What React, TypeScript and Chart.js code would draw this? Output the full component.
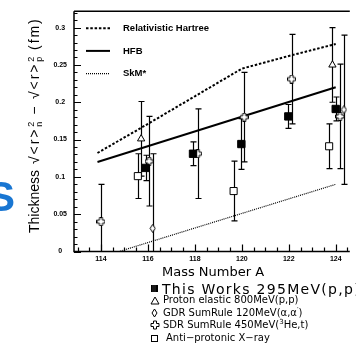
import React, { useEffect, useRef } from 'react';
import { Chart, registerables } from 'chart.js';

Chart.register(...registerables);

// ---------- data ----------
const thisWorkA = [115.9, 117.92, 119.98, 121.98, 124.0];
const thisWorkV = [0.112, 0.131, 0.144, 0.181, 0.191];
const thisWorkErr = [0.017, 0.016, 0.034, 0.016, 0.016];

const protonA = [115.71, 123.86];
const protonV = [0.151, 0.25];
const protonErr = [0.05, 0.05];

const gdrA = [116.2, 124.35];
const gdrV = [0.031, 0.19];
const gdrErr = [0.1, 0.1];

const sdrA = [114.0, 116.05, 118.12, 120.1, 122.12, 124.18];
const sdrV = [0.04, 0.121, 0.131, 0.18, 0.231, 0.181];
const sdrErr = [0.05, 0.06, 0.06, 0.06, 0.06, 0.07];

const pbarA = [115.57, 119.65, 123.72];
const pbarV = [0.101, 0.081, 0.141];
const pbarErr = [0.03, 0.04, 0.03];

const rhA = [113.85, 116, 118, 120, 122, 124];
const rhV = [0.132, 0.171, 0.208, 0.245, 0.262, 0.278];

const hfbA = [113.85, 124];
const hfbV = [0.12, 0.22];

const skmA = [113.85, 124];
const skmV = [-0.009, 0.09];

const theoryLabels = ['Relativistic Hartree', 'HFB', 'SkM*'];

const X_MIN = 112.85;
const X_MAX = 124.6;
const Y_MIN = 0;
const Y_MAX = 0.322;

const pts = (xs: number[], ys: number[]) => xs.map((x, i) => ({ x, y: ys[i] }));

function crossImage(): HTMLCanvasElement {
  const c = document.createElement('canvas');
  c.width = 9;
  c.height = 9;
  const g = c.getContext('2d')!;
  const p = [[3, 0.5], [6, 0.5], [6, 3], [8.5, 3], [8.5, 6], [6, 6], [6, 8.5], [3, 8.5], [3, 6], [0.5, 6], [0.5, 3], [3, 3]];
  g.beginPath();
  p.forEach(([x, y], i) => (i ? g.lineTo(x, y) : g.moveTo(x, y)));
  g.closePath();
  g.fillStyle = '#fff';
  g.fill();
  g.strokeStyle = '#000';
  g.lineWidth = 1;
  g.stroke();
  return c;
}

function diamondImage(): HTMLCanvasElement {
  const c = document.createElement('canvas');
  c.width = 7;
  c.height = 9;
  const g = c.getContext('2d')!;
  g.beginPath();
  g.moveTo(3.5, 0.5);
  g.lineTo(6, 4.5);
  g.lineTo(3.5, 8.5);
  g.lineTo(1, 4.5);
  g.closePath();
  g.fillStyle = '#fff';
  g.fill();
  g.strokeStyle = '#000';
  g.lineWidth = 1;
  g.stroke();
  return c;
}

const errorBarPlugin = {
  id: 'errorBars',
  beforeDatasetsDraw(chart: any) {
    const { ctx, chartArea } = chart;
    const { left, right, top, bottom } = chartArea;
    const xs = chart.scales.x;
    const ys = chart.scales.y;
    ctx.save();
    ctx.beginPath();
    ctx.rect(left, top, right - left, bottom - top);
    ctx.clip();
    ctx.strokeStyle = '#000';
    ctx.lineWidth = 1.2;
    chart.data.datasets.forEach((ds: any) => {
      if (!ds.errors) return;
      ds.data.forEach((p: any, i: number) => {
        const e = ds.errors[i];
        const x = Math.round(xs.getPixelForValue(p.x)) + 0.5;
        const y1 = ys.getPixelForValue(p.y + e);
        const y2 = ys.getPixelForValue(p.y - e);
        ctx.beginPath();
        ctx.moveTo(x, y1);
        ctx.lineTo(x, y2);
        ctx.moveTo(x - 3, y1);
        ctx.lineTo(x + 3, y1);
        ctx.moveTo(x - 3, y2);
        ctx.lineTo(x + 3, y2);
        ctx.stroke();
      });
    });
    ctx.restore();
  },
};

const framePlugin = {
  id: 'frameTicks',
  afterDatasetsDraw(chart: any) {
    const { ctx, chartArea } = chart;
    const { left, right, top, bottom } = chartArea;
    const xs = chart.scales.x;
    const ys = chart.scales.y;
    ctx.save();
    ctx.strokeStyle = '#000';
    ctx.lineWidth = 1.5;
    ctx.beginPath();
    ctx.moveTo(left, top);
    ctx.lineTo(right, top);
    ctx.moveTo(left, top);
    ctx.lineTo(left, bottom);
    ctx.lineTo(right, bottom);
    ctx.stroke();
    ctx.lineWidth = 1.2;
    ctx.beginPath();
    for (let k = 0; k <= 32; k++) {
      const v = k / 100;
      if (v > Y_MAX) break;
      const y = Math.round(ys.getPixelForValue(v)) + 0.5;
      const len = k % 5 === 0 ? 7 : 3.5;
      ctx.moveTo(left, y);
      ctx.lineTo(left + len, y);
    }
    for (let k = 226; k <= 250; k++) {
      const v = k / 2;
      if (v < X_MIN || v > X_MAX) continue;
      const x = Math.round(xs.getPixelForValue(v)) + 0.5;
      const len = k % 4 === 0 ? 7 : 4;
      ctx.moveTo(x, bottom);
      ctx.lineTo(x, bottom - len);
    }
    ctx.stroke();
    ctx.restore();
  },
};

const innerLegendPlugin = {
  id: 'innerLegend',
  afterDraw(chart: any) {
    const { ctx, chartArea } = chart;
    const items = chart.data.datasets.filter((d: any) => d.inLegend);
    ctx.save();
    items.forEach((d: any, i: number) => {
      const y = chartArea.top + 17 + i * 22.7;
      ctx.beginPath();
      ctx.strokeStyle = '#000';
      ctx.lineWidth = d.borderWidth;
      ctx.setLineDash(d.borderDash || []);
      ctx.moveTo(chartArea.left + 12, y);
      ctx.lineTo(chartArea.left + 36, y);
      ctx.stroke();
      ctx.setLineDash([]);
      ctx.fillStyle = '#000';
      ctx.font = 'bold 9.5px "Liberation Sans", Arial, sans-serif';
      ctx.textAlign = 'left';
      ctx.textBaseline = 'middle';
      ctx.fillText(d.label, chartArea.left + 49, y);
    });
    ctx.restore();
  },
};

function ChartCanvas() {
  const ref = useRef<HTMLCanvasElement>(null);
  useEffect(() => {
    if (!ref.current) return;
    const cross = crossImage();
    const diamond = diamondImage();
    const tickFont = { family: '"Liberation Sans", Arial, sans-serif', size: 7, weight: 'bold' as const };
    const chart = new Chart(ref.current, {
      type: 'scatter',
      data: {
        datasets: [
          {
            label: 'This Works 295MeV(p,p)',
            data: pts(thisWorkA, thisWorkV),
            errors: thisWorkErr,
            pointStyle: 'rect',
            pointRadius: 5.2,
            backgroundColor: '#000',
            borderColor: '#000',
            borderWidth: 1,
            order: 0,
          } as any,
          {
            label: 'Proton elastic 800MeV(p,p)',
            data: pts(protonA, protonV),
            errors: protonErr,
            pointStyle: 'triangle',
            pointRadius: 4.2,
            backgroundColor: '#fff',
            borderColor: '#000',
            borderWidth: 1,
            order: 0,
          } as any,
          {
            label: 'GDR SumRule 120MeV',
            data: pts(gdrA, gdrV),
            errors: gdrErr,
            pointStyle: diamond,
            pointRadius: 4,
            order: 0,
          } as any,
          {
            label: 'SDR SumRule 450MeV',
            data: pts(sdrA, sdrV),
            errors: sdrErr,
            pointStyle: cross,
            pointRadius: 4,
            order: 0,
          } as any,
          {
            label: 'Anti-protonic X-ray',
            data: pts(pbarA, pbarV),
            errors: pbarErr,
            pointStyle: 'rect',
            pointRadius: 5,
            backgroundColor: '#fff',
            borderColor: '#000',
            borderWidth: 1,
            order: 0,
          } as any,
          {
            label: theoryLabels[0],
            data: pts(rhA, rhV),
            showLine: true,
            pointRadius: 0,
            borderColor: '#000',
            borderWidth: 2,
            borderDash: [2.5, 1.8],
            inLegend: true,
            clip: 0,
            order: 1,
          } as any,
          {
            label: theoryLabels[1],
            data: pts(hfbA, hfbV),
            showLine: true,
            pointRadius: 0,
            borderColor: '#000',
            borderWidth: 2,
            inLegend: true,
            clip: 0,
            order: 1,
          } as any,
          {
            label: theoryLabels[2],
            data: pts(skmA, skmV),
            showLine: true,
            pointRadius: 0,
            borderColor: '#000',
            borderWidth: 1.2,
            borderDash: [1, 1],
            inLegend: true,
            clip: 0,
            order: 1,
          } as any,
        ],
      },
      options: {
        animation: false,
        responsive: false,
        layout: { padding: { top: 7, right: 0, left: 0, bottom: 0 } },
        plugins: { legend: { display: false }, tooltip: { enabled: false } },
        scales: {
          x: {
            type: 'linear',
            min: X_MIN,
            max: X_MAX,
            grid: { display: false, drawTicks: false },
            border: { display: false },
            ticks: {
              stepSize: 2,
              includeBounds: false,
              color: '#000',
              font: tickFont,
              padding: 3,
              maxRotation: 0,
              callback: (v: any) => String(v),
            },
            afterFit: (s: any) => {
              s.height = 13.5;
            },
          },
          y: {
            type: 'linear',
            min: Y_MIN,
            max: Y_MAX,
            grid: { display: false, drawTicks: false },
            border: { display: false },
            ticks: {
              stepSize: 0.05,
              includeBounds: false,
              color: '#000',
              font: tickFont,
              padding: 7,
              crossAlign: 'center',
              callback: (v: any) => (Math.abs(v) < 1e-9 ? '0' : String(+Number(v).toFixed(2))),
            },
            afterFit: (s: any) => {
              s.width = 74;
            },
          },
        },
      } as any,
      plugins: [errorBarPlugin, framePlugin, innerLegendPlugin],
    });
    return () => chart.destroy();
  }, []);
  return <canvas ref={ref} width={356} height={265} style={{ position: 'absolute', left: 0, top: 0, width: 356, height: 265 }} />;
}

function Stack({ a, b }: { a: string; b: string }) {
  return (
    <span
      style={{
        display: 'inline-flex',
        flexDirection: 'column',
        fontSize: 9,
        lineHeight: '8px',
        verticalAlign: 'middle',
        letterSpacing: 0,
        margin: '0 1px',
      }}
    >
      <span>{a}</span>
      <span>{b}</span>
    </span>
  );
}

const iconStyle: React.CSSProperties = { position: 'absolute', left: 0, top: 0 };

function Icon({ kind }: { kind: string }) {
  if (kind === 'filled')
    return (
      <svg width="9" height="9" style={iconStyle}>
        <rect x="1" y="1" width="7" height="7" fill="#000" />
        <line x1="3" y1="1" x2="3" y2="8" stroke="#555" strokeWidth="0.6" />
        <line x1="5" y1="1" x2="5" y2="8" stroke="#555" strokeWidth="0.6" />
      </svg>
    );
  if (kind === 'tri')
    return (
      <svg width="10" height="9" style={iconStyle}>
        <polygon points="5,1 9,8 1,8" fill="none" stroke="#000" strokeWidth="1" />
      </svg>
    );
  if (kind === 'dia')
    return (
      <svg width="9" height="10" style={iconStyle}>
        <polygon points="4.5,1 7,5 4.5,9 2,5" fill="none" stroke="#000" strokeWidth="1" />
      </svg>
    );
  if (kind === 'cross')
    return (
      <svg width="10" height="10" style={iconStyle}>
        <polygon
          points="3.5,1 6.5,1 6.5,3.5 9,3.5 9,6.5 6.5,6.5 6.5,9 3.5,9 3.5,6.5 1,6.5 1,3.5 3.5,3.5"
          fill="none"
          stroke="#000"
          strokeWidth="1"
        />
      </svg>
    );
  return (
    <svg width="9" height="9" style={iconStyle}>
      <rect x="1.5" y="1.5" width="6" height="6" fill="none" stroke="#000" strokeWidth="1" />
    </svg>
  );
}

function LegendRow({ top, icon, iconTop, textLeft, size, spacing, children }: any) {
  return (
    <div style={{ position: 'absolute', left: 150, top, height: size + 4, whiteSpace: 'nowrap' }}>
      <div style={{ position: 'absolute', left: 0, top: iconTop }}>
        <Icon kind={icon} />
      </div>
      <div
        style={{
          position: 'absolute',
          left: textLeft,
          top: 0,
          fontFamily: '"DejaVu Sans", sans-serif',
          fontSize: size,
          lineHeight: `${size + 2}px`,
          letterSpacing: spacing,
          color: '#000',
        }}
      >
        {children}
      </div>
    </div>
  );
}

export default function App() {
  return (
    <div
      style={{
        position: 'fixed',
        left: 0,
        top: 0,
        width: 356,
        height: 347,
        overflow: 'hidden',
        background: '#fff',
      }}
    >
      <ChartCanvas />
      <div
        style={{
          position: 'absolute',
          left: -13,
          top: 176,
          fontFamily: '"Liberation Sans", Arial, sans-serif',
          fontWeight: 'bold',
          fontSize: 42,
          lineHeight: '42px',
          color: '#1976D2',
        }}
      >
        S
      </div>
      <div
        style={{
          position: 'absolute',
          left: -96,
          top: 93,
          width: 260,
          height: 20,
          lineHeight: '20px',
          transform: 'rotate(-90deg)',
          fontFamily: '"Liberation Sans", Arial, sans-serif',
          fontSize: 14,
          whiteSpace: 'nowrap',
          color: '#000',
        }}
      >
        Thickness
        <span style={{ marginLeft: 6, letterSpacing: '1.9px' }}>
          √&lt;r&gt;
          <Stack a="2" b="n" /> − √&lt;r&gt;
          <Stack a="2" b="p" /> (fm)
        </span>
      </div>
      <div
        style={{
          position: 'absolute',
          left: 162,
          top: 264,
          fontFamily: '"DejaVu Sans", sans-serif',
          fontSize: 13,
          lineHeight: '16px',
          color: '#000',
          whiteSpace: 'nowrap',
        }}
      >
        Mass Number A
      </div>
      <LegendRow top={281} icon="filled" iconTop={3} textLeft={12} size={14} spacing="1.3px">
        This Works 295MeV(p,p)
      </LegendRow>
      <LegendRow top={294} icon="tri" iconTop={2} textLeft={13} size={10} spacing="0px">
        Proton elastic 800MeV(p,p)
      </LegendRow>
      <LegendRow top={306.5} icon="dia" iconTop={1} textLeft={13} size={10} spacing="0px">
        GDR SumRule 120MeV(α,α<sup style={{ fontSize: 7, lineHeight: 0 }}>′</sup>)
      </LegendRow>
      <LegendRow top={319} icon="cross" iconTop={1} textLeft={13} size={10} spacing="0px">
        SDR SumRule 450MeV(<sup style={{ fontSize: 7, lineHeight: 0 }}>3</sup>He,t)
      </LegendRow>
      <LegendRow top={331.5} icon="sq" iconTop={2} textLeft={16} size={10} spacing="0px">
        Anti−protonic X−ray
      </LegendRow>
    </div>
  );
}
